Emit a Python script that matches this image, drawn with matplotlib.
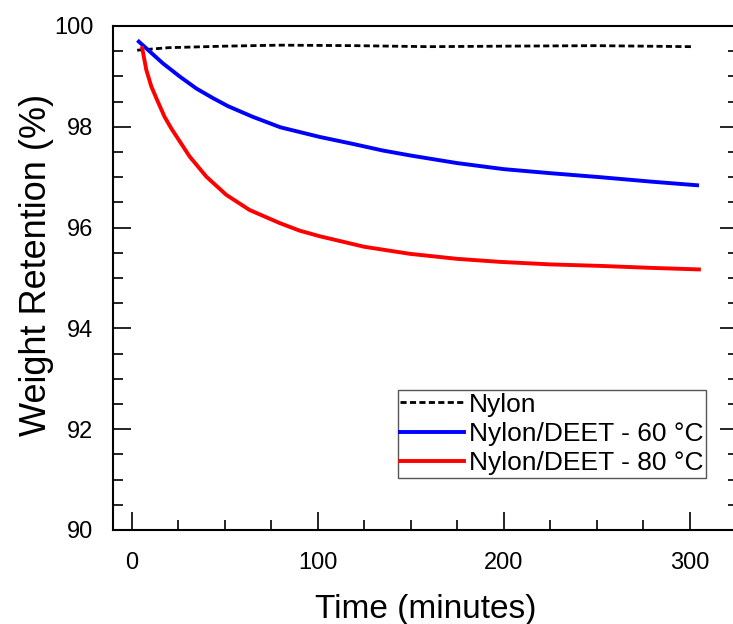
import matplotlib
matplotlib.use('Agg')
import matplotlib.pyplot as plt
from matplotlib.ticker import MultipleLocator

plt.rcParams['font.family'] = ['Liberation Sans', 'DejaVu Sans']

# Nylon (reference, dashed)
nylon_t = [3, 20, 50, 80, 120, 160, 200, 250, 301]
nylon_w = [99.52, 99.57, 99.60, 99.62, 99.61, 99.59, 99.60, 99.61, 99.59]

# Nylon/DEET at 60 C
deet60_t = [3.9, 16.8, 25.8, 34.8, 43.7, 51.8, 65, 80, 101, 119, 135, 150, 175, 200, 225, 252, 280, 304]
deet60_w = [99.69, 99.26, 99.00, 98.76, 98.57, 98.41, 98.20, 97.99, 97.80, 97.66, 97.53, 97.43,
            97.28, 97.16, 97.08, 97.00, 96.91, 96.84]

# Nylon/DEET at 80 C
deet80_t = [5.7, 7.9, 10.6, 14.1, 17.7, 21.3, 31.2, 40.2, 50.9, 63.4, 79.6, 90.3, 101, 125, 149.5,
            175, 198, 225, 252, 280, 305]
deet80_w = [99.56, 99.13, 98.80, 98.50, 98.20, 97.97, 97.41, 97.01, 96.65, 96.35, 96.09, 95.94,
            95.83, 95.62, 95.48, 95.38, 95.32, 95.27, 95.24, 95.20, 95.17]

fig = plt.figure(figsize=(7.33, 6.24), dpi=100)
ax = fig.add_axes([113 / 733, 94 / 624, 625 / 733, 504 / 624])

ax.plot(nylon_t, nylon_w, color='black', linestyle=(0, (2.2, 1.2)), linewidth=2.0, label='Nylon')
ax.plot(deet60_t, deet60_w, color='#0000ff', linewidth=2.8, label='Nylon/DEET - 60 °C')
ax.plot(deet80_t, deet80_w, color='#ff0000', linewidth=2.8, label='Nylon/DEET - 80 °C')

ax.set_xlim(-10, 326)
ax.set_ylim(90, 100)
ax.xaxis.set_major_locator(MultipleLocator(100))
ax.xaxis.set_minor_locator(MultipleLocator(25))
ax.yaxis.set_major_locator(MultipleLocator(2))
ax.yaxis.set_minor_locator(MultipleLocator(0.5))

ax.tick_params(which='both', direction='in', top=False, right=True, width=1.2, labelsize=17)
ax.tick_params(which='major', length=13)
ax.tick_params(which='minor', length=7.5)
ax.tick_params(axis='x', pad=16)
ax.tick_params(axis='y', pad=14)
for s in ax.spines.values():
    s.set_linewidth(1.5)

ax.set_xlabel('Time (minutes)', fontsize=24, labelpad=14)
ax.set_ylabel('Weight Retention (%)', fontsize=26)
ax.yaxis.set_label_coords(-0.095, 0.526)

leg = ax.legend(loc='upper right', bbox_to_anchor=(706 / 733, 1 - 390 / 624),
                bbox_transform=fig.transFigure, fontsize=19, frameon=True, fancybox=False,
                edgecolor='#555555', framealpha=1, borderpad=0.1, borderaxespad=0,
                handlelength=2.4, handletextpad=0.2, labelspacing=0.2)
leg.get_frame().set_linewidth(1.0)

fig.savefig('out.png', dpi=100)
